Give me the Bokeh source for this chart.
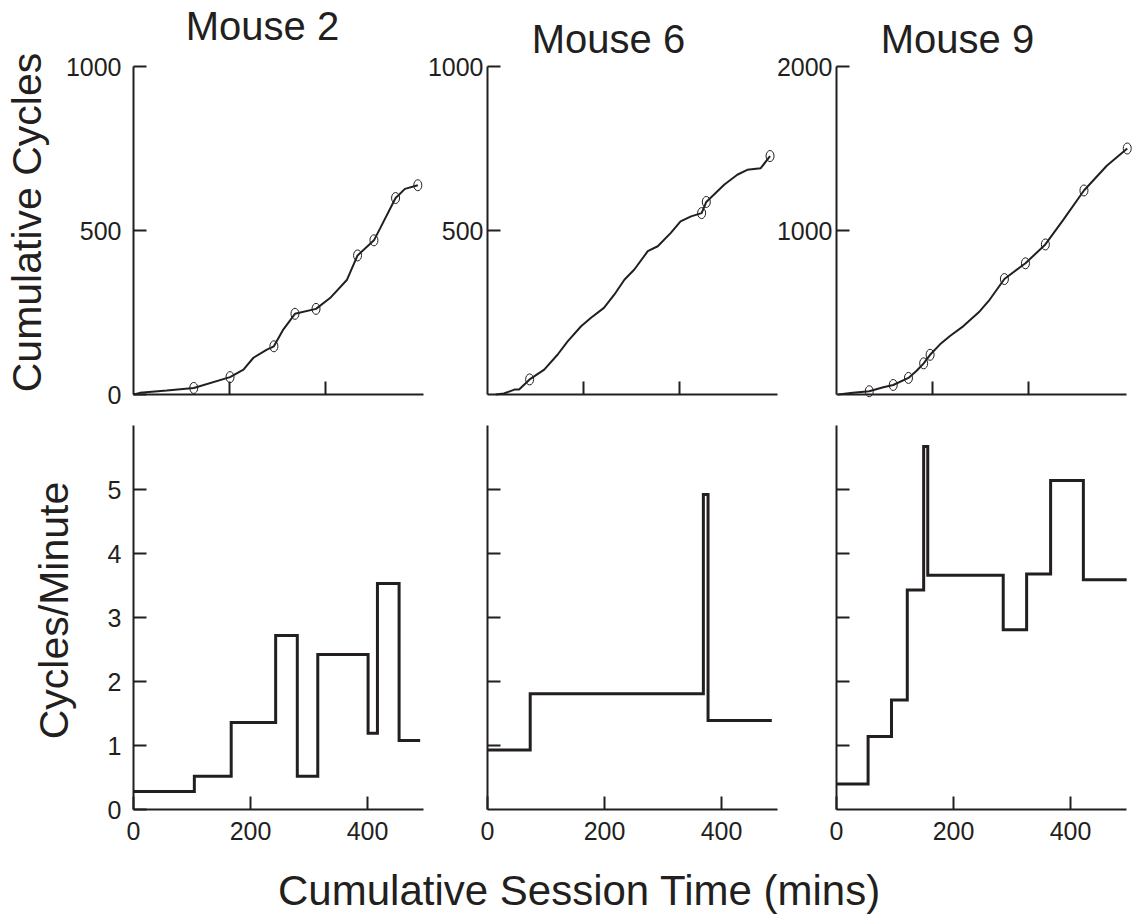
import math
from bokeh.plotting import figure
from bokeh.models import Range1d, LinearAxis, FixedTicker, Label
from bokeh.embed import file_html
from bokeh.resources import INLINE

# ---------------- data ----------------
titles = ["Mouse 2", "Mouse 6", "Mouse 9"]
top_max = [1000, 1000, 2000]
top_ticks_labeled = [[0, 500, 1000], [500, 1000], [1000, 2000]]
top_x_ticks = [164, 328]
bottom_x_ticks = [0, 200, 400]
bottom_y_ticks = [0, 1, 2, 3, 4, 5]

# cumulative cycles curves (minutes, cycles)
m2_t = [0, 11, 57, 103, 165, 188, 205, 228, 240, 256, 276, 312, 336, 365, 383, 411, 422, 448, 464, 486]
m2_c = [0, 5, 12, 20, 53, 76, 112, 137, 147, 198, 246, 261, 294, 350, 424, 470, 508, 599, 627, 638]
m6_t = [14, 28, 46, 54, 72, 97, 120, 137, 160, 177, 199, 217, 234, 251, 274, 291, 313, 330, 348, 366, 374, 405, 427, 444, 467, 483]
m6_c = [0, 3, 15, 15, 46, 76, 122, 162, 208, 234, 264, 305, 350, 381, 437, 452, 492, 528, 543, 553, 587, 640, 670, 685, 690, 727]
m9_t = [3, 28, 56, 80, 97, 123, 137, 149, 160, 177, 194, 217, 245, 262, 287, 323, 357, 387, 423, 462, 497]
m9_c = [0, 10, 20, 44, 58, 101, 145, 190, 242, 306, 357, 417, 508, 579, 704, 800, 915, 1062, 1244, 1395, 1500]

# session-end markers
m2_pt_t = [103, 165, 240, 276, 312, 383, 411, 448, 486]
m2_pt_c = [20, 53, 147, 246, 261, 424, 470, 599, 638]
m6_pt_t = [72, 366, 374, 483]
m6_pt_c = [46, 553, 587, 727]
m9_pt_t = [56, 97, 123, 149, 160, 287, 323, 357, 423, 497]
m9_pt_c = [20, 58, 101, 190, 242, 704, 800, 915, 1244, 1500]

# rate per session (session edges in minutes, cycles/minute)
m2_edges = [0, 104, 167, 243, 280, 315, 401, 417, 454, 490]
m2_rate = [0.28, 0.52, 1.36, 2.72, 0.52, 2.42, 1.19, 3.53, 1.08]
m6_edges = [0, 73, 369, 377, 486]
m6_rate = [0.93, 1.81, 4.92, 1.39]
m9_edges = [0, 54, 94, 121, 149, 156, 285, 325, 366, 422, 496]
m9_rate = [0.40, 1.14, 1.71, 3.43, 5.67, 3.66, 2.81, 3.68, 5.14, 3.59]

curves = [(m2_t, m2_c), (m6_t, m6_c), (m9_t, m9_c)]
points = [(m2_pt_t, m2_pt_c), (m6_pt_t, m6_pt_c), (m9_pt_t, m9_pt_c)]
steps = [(m2_edges, m2_rate), (m6_edges, m6_rate), (m9_edges, m9_rate)]

# ---------------- layout ----------------
W, H = 1134, 914
INK = "#231f20"
FONT = "Liberation Sans"
X0 = [133, 487, 836]      # screen x of t = 0
SX = 0.585                # px per minute
X_END = 495               # axis length in minutes
TOP_Y0, TOP_PX = 394, 328 # screen y of 0 cycles, axis height
BOT_Y0, BOT_SY = 809, 64  # screen y of rate 0, px per unit
BOT_MAX = 6

p = figure(width=W, height=H, x_range=Range1d(0, W), y_range=Range1d(H, 0),
           x_axis_type=None, y_axis_type=None, toolbar_location=None,
           output_backend="svg", min_border=0, outline_line_color=None)
p.background_fill_color = "white"
p.border_fill_color = "white"


def axis_style(ax, standoff):
    ax.axis_line_color = INK
    ax.axis_line_width = 2
    ax.major_tick_line_color = INK
    ax.major_tick_line_width = 2
    ax.major_tick_in = 13
    ax.major_tick_out = 0
    ax.minor_tick_line_color = INK
    ax.minor_tick_line_width = 2
    ax.minor_tick_in = 13
    ax.minor_tick_out = 0
    ax.major_label_text_font = FONT
    ax.major_label_text_color = INK
    ax.major_label_text_font_size = "25px"
    ax.major_label_standoff = standoff


for i in range(3):
    xr = f"x{i}"
    p.extra_x_ranges[xr] = Range1d(-X0[i] / SX, (W - X0[i]) / SX)

    # ---- top panel: cumulative cycles ----
    sy = TOP_PX / top_max[i]
    yt = f"yt{i}"
    p.extra_y_ranges[yt] = Range1d((TOP_Y0 - H) / sy, TOP_Y0 / sy)

    # unlabeled ticks drawn as minor ticks
    ax = LinearAxis(x_range_name=xr, y_range_name=yt, fixed_location=0,
                    bounds=(0, X_END), ticker=FixedTicker(ticks=[], minor_ticks=top_x_ticks))
    axis_style(ax, 10)
    p.add_layout(ax, "below")

    ay = LinearAxis(x_range_name=xr, y_range_name=yt, fixed_location=0,
                    bounds=(0, top_max[i]), ticker=FixedTicker(ticks=top_ticks_labeled[i]))
    axis_style(ay, 12 if i == 0 else 4)
    p.add_layout(ay, "left")

    t, c = curves[i]
    p.line(t, c, x_range_name=xr, y_range_name=yt, line_color=INK, line_width=2)
    pt, pc = points[i]
    p.ellipse(pt, pc, width=8, height=11, width_units="screen", height_units="screen",
              x_range_name=xr, y_range_name=yt, fill_color=None, line_color=INK, line_width=1)

    # ---- bottom panel: cycles per minute ----
    yb = f"yb{i}"
    p.extra_y_ranges[yb] = Range1d((BOT_Y0 - H) / BOT_SY, BOT_Y0 / BOT_SY)

    bx = LinearAxis(x_range_name=xr, y_range_name=yb, fixed_location=0,
                    bounds=(0, X_END), ticker=FixedTicker(ticks=bottom_x_ticks))
    axis_style(bx, 12)
    p.add_layout(bx, "below")

    if i == 0:
        yticker = FixedTicker(ticks=bottom_y_ticks)
    else:
        yticker = FixedTicker(ticks=[], minor_ticks=bottom_y_ticks[1:])
    by = LinearAxis(x_range_name=xr, y_range_name=yb, fixed_location=0,
                    bounds=(0, BOT_MAX), ticker=yticker)
    axis_style(by, 12)
    p.add_layout(by, "left")

    edges, rate = steps[i]
    p.step(edges, list(rate) + [rate[-1]], mode="after", x_range_name=xr, y_range_name=yb,
           line_color=INK, line_width=3, line_join="miter")

    # title
    p.add_layout(Label(x=[262, 608, 957][i], y=[25, 38, 38][i], text=titles[i],
                       text_font=FONT, text_font_size="40px", text_color=INK,
                       text_align="center", text_baseline="alphabetic"))

p.add_layout(Label(x=26, y=222, text="Cumulative Cycles", angle=math.pi / 2,
                   text_font=FONT, text_font_size="41px", text_color=INK,
                   text_align="center", text_baseline="alphabetic"))
p.add_layout(Label(x=53, y=610, text="Cycles/Minute", angle=math.pi / 2,
                   text_font=FONT, text_font_size="41px", text_color=INK,
                   text_align="center", text_baseline="alphabetic"))
p.add_layout(Label(x=579, y=890, text="Cumulative Session Time (mins)",
                   text_font=FONT, text_font_size="42px", text_color=INK,
                   text_align="center", text_baseline="alphabetic"))

open("out.html", "w").write(file_html(p, INLINE))
